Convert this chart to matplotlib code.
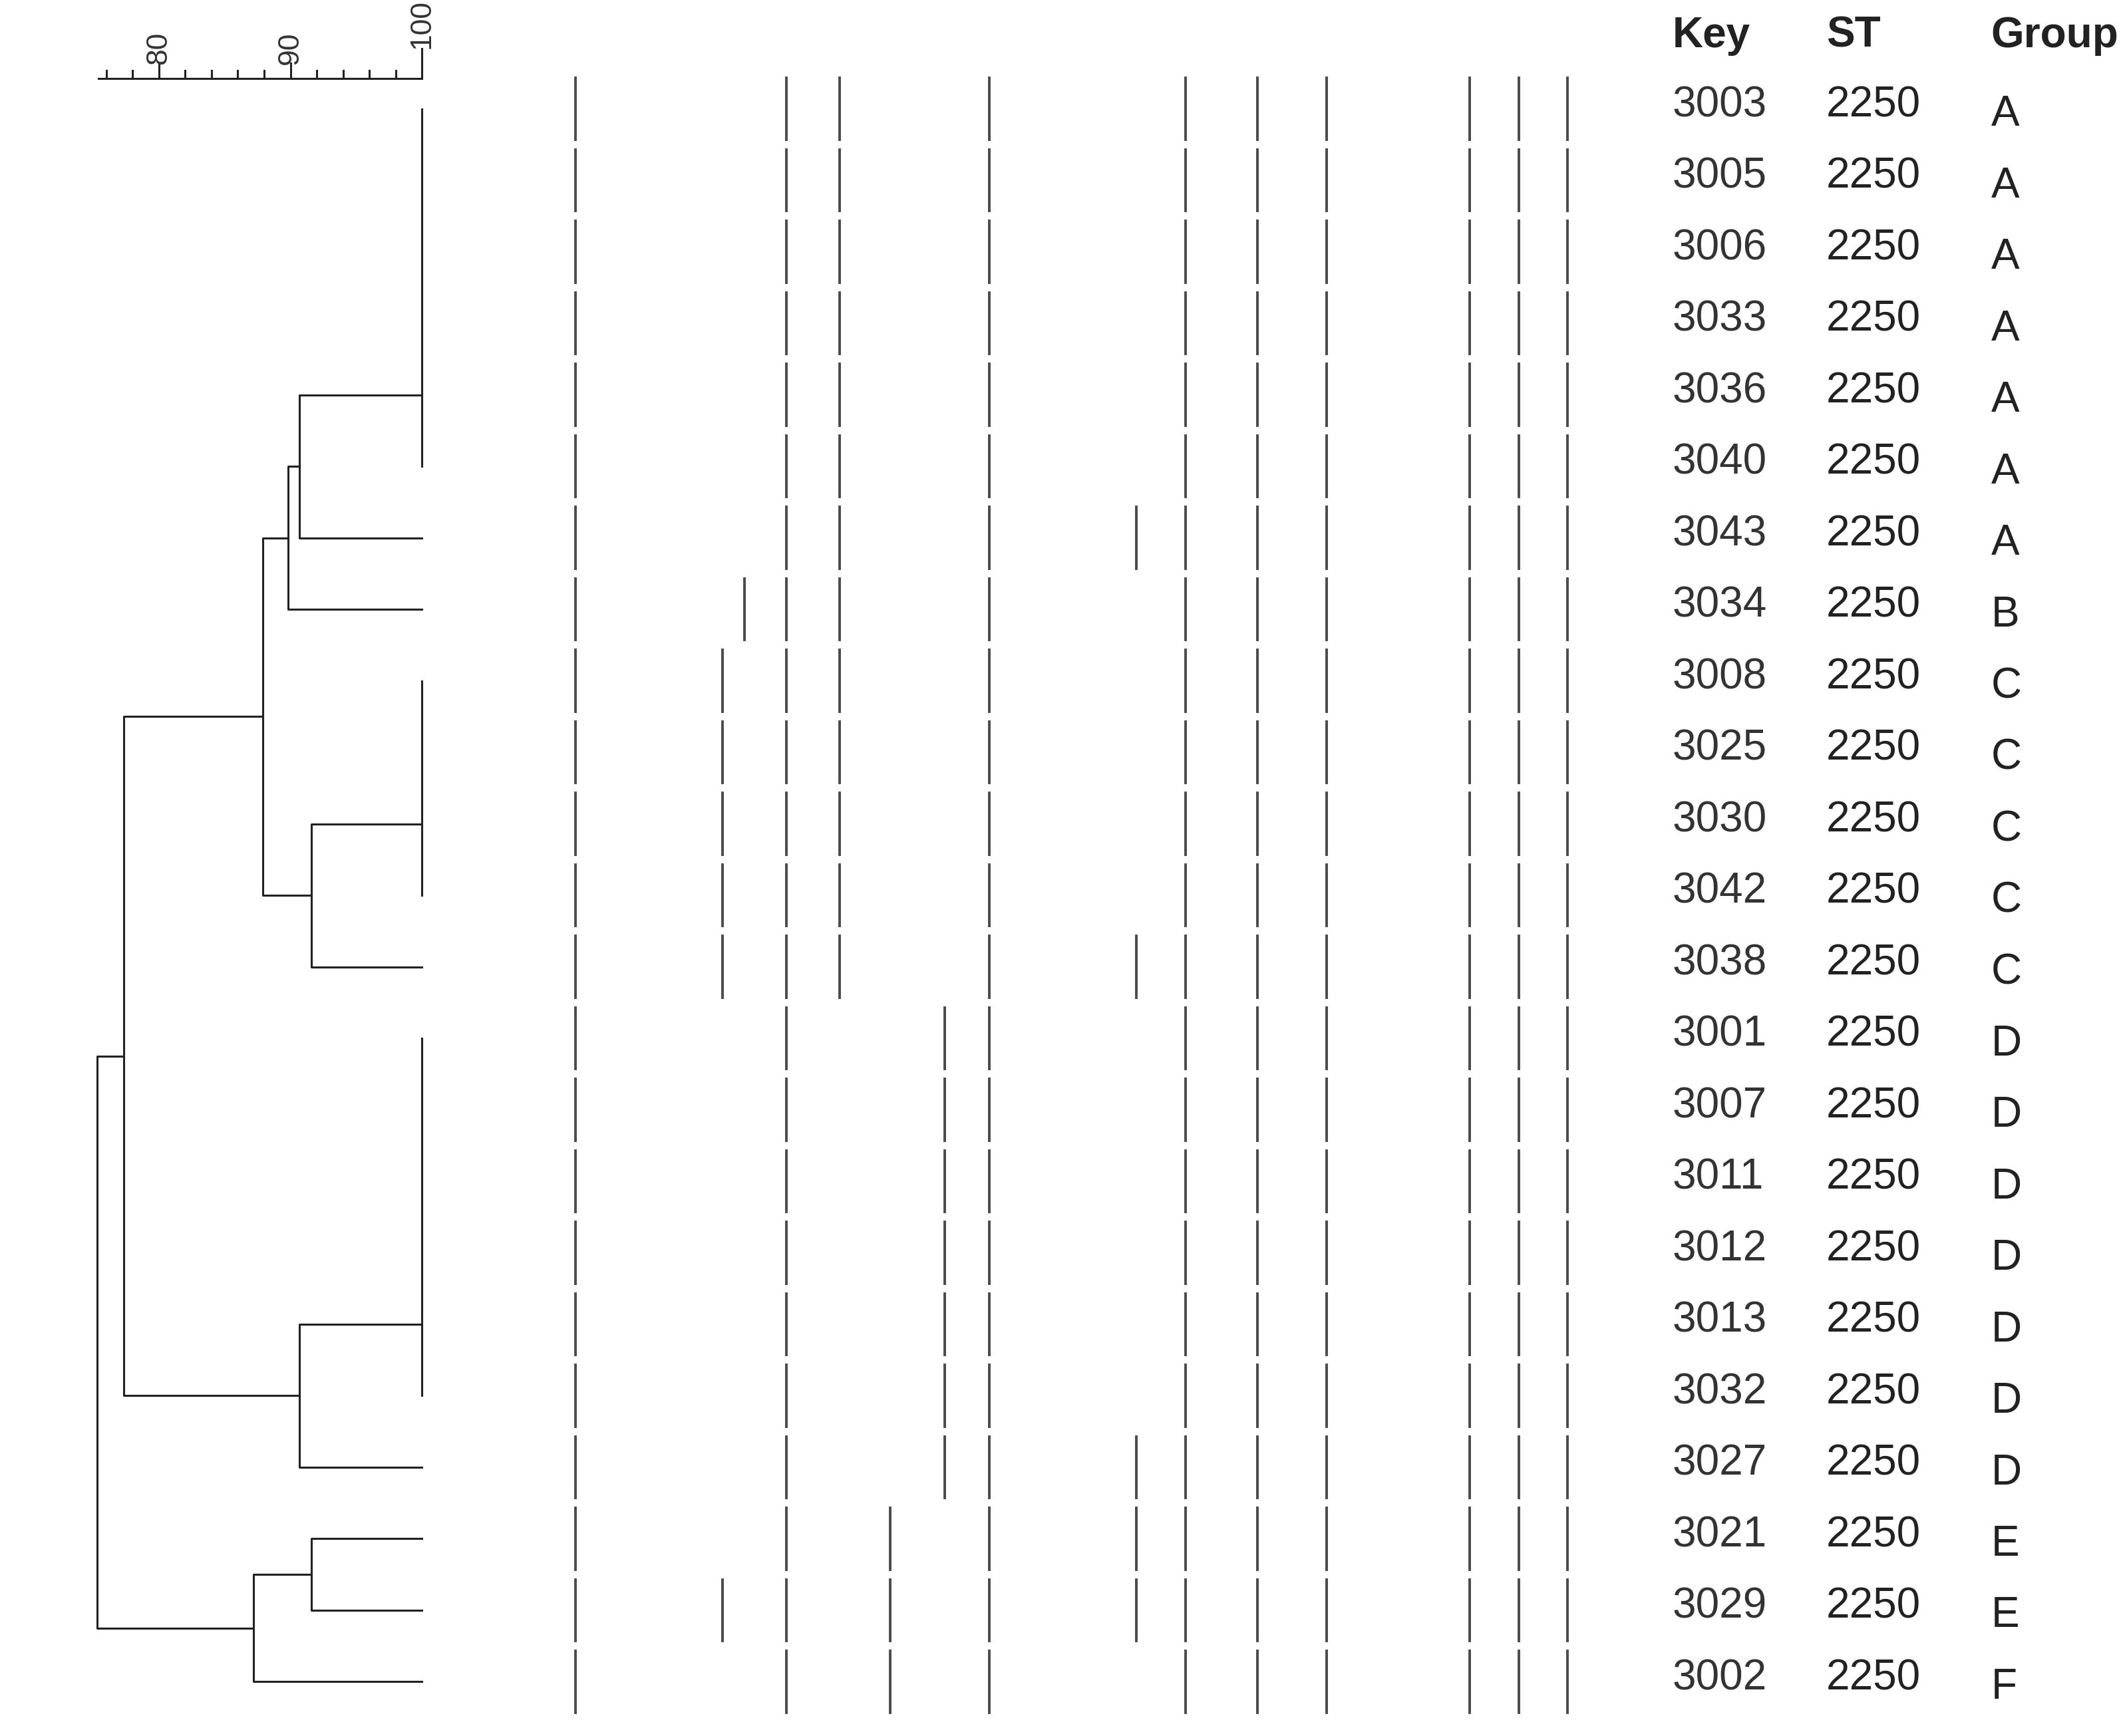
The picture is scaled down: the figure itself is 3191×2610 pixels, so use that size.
import matplotlib
matplotlib.use("Agg")
import matplotlib.pyplot as plt

keys = ["3003","3005","3006","3033","3036","3040","3043","3034","3008","3025","3030","3042",
        "3038","3001","3007","3011","3012","3013","3032","3027","3021","3029","3002"]
st = ["2250"] * 23
groups = ["A","A","A","A","A","A","A","B","C","C","C","C","C","D","D","D","D","D","D","D","E","E","F"]

# band lane positions (relative migration units)
lanes = [423, 531, 547, 578, 617, 654, 694, 727, 835, 871, 924, 975, 1080, 1116, 1152]
common = [10, 11, 12, 13, 14, 15]
patA = [1, 4, 5, 8] + common
patC = [1, 2, 4, 5, 8] + common
patD = [1, 4, 7, 8] + common
profiles = ([patA]*6 + [[1,4,5,8,9]+common] + [[1,3,4,5,8]+common] + [patC]*4 +
            [[1,2,4,5,8,9]+common] + [patD]*6 + [[1,4,7,8,9]+common] +
            [[1,4,6,8,9]+common] + [[1,2,4,6,8,9]+common] + [[1,4,6,8]+common])

# dendrogram: identical clusters (rows) and merges (a, b, similarity)
identical = {"A": (0, 5), "C": (8, 11), "D": (13, 18)}
merges = [("A", 6, 90.7), ("m0", 7, 89.8), ("C", 12, 91.6), ("m1", "m2", 87.9),
          ("D", 19, 90.7), (20, 21, 91.6), ("m5", 22, 87.2), ("m3", "m4", 77.3),
          ("m7", "m6", 75.3)]

W, H = 3191, 2610
fig = plt.figure(figsize=(W/100, H/100), dpi=100)
ytop = -80/52.55
ybot = (1276-80)/52.55
axd = fig.add_axes([0, 0, 1, 1])
axd.set_xlim(100 - 310/9.66, 100 + (1560-310)/9.66)
axd.set_ylim(ybot, ytop)
axd.axis("off")
axb = fig.add_axes([0, 0, 1, 1])
axb.set_xlim(0, 1560)
axb.set_ylim(ybot, ytop)
axb.axis("off")

lc = "#222222"
lw = 2.2
nodes = {}
for name, (a, b) in identical.items():
    axd.plot([100, 100], [a, b], color=lc, lw=lw)
    nodes[name] = (b - 1, 100)

def get(c):
    if isinstance(c, int):
        return (c, 100)
    return nodes[c]

for i, (a, b, s) in enumerate(merges):
    ya, sa = get(a)
    yb, sb = get(b)
    axd.plot([sa, s, s, sb], [ya, ya, yb, yb], color=lc, lw=lw)
    nodes["m%d" % i] = ((ya + yb) / 2, s)

# scale bar
ys = -0.42
axd.plot([75.4, 100], [ys, ys], color=lc, lw=lw)
for t in range(76, 101, 2):
    ln = 0.22 if t in (80, 90) else 0.12
    if t == 100:
        ln = 0.42
    axd.plot([t, t], [ys, ys - ln], color=lc, lw=lw)
for t in (80, 90):
    axd.text(t, ys - 0.2, str(t), rotation=90, ha="center", va="bottom",
             fontsize=32, color="#333333", family="Liberation Sans")
axd.text(100, ys - 0.42, "100", rotation=90, ha="center", va="bottom",
         fontsize=32, color="#333333", family="Liberation Sans")

# bands
for r, prof in enumerate(profiles):
    for li in prof:
        axb.plot([lanes[li-1], lanes[li-1]], [r - 0.43, r + 0.43], color="#4a4a4a", lw=2.8)

# text columns
fs = 46
for txt, x in (("Key", 1229), ("ST", 1342), ("Group", 1463)):
    axb.text(x, -1.02, txt, fontsize=fs, fontweight="bold", ha="left", va="center",
             color="#222222", family="Liberation Sans")
for r in range(len(keys)):
    axb.text(1229, r - 0.05, keys[r], fontsize=fs, ha="left", va="center", color="#333333", family="Liberation Sans")
    axb.text(1342, r - 0.05, st[r], fontsize=fs, ha="left", va="center", color="#222222", family="Liberation Sans")
    axb.text(1463, r + 0.08, groups[r], fontsize=fs, ha="left", va="center", color="#222222", family="Liberation Sans")

fig.savefig("out.png", dpi=100, facecolor="white")
